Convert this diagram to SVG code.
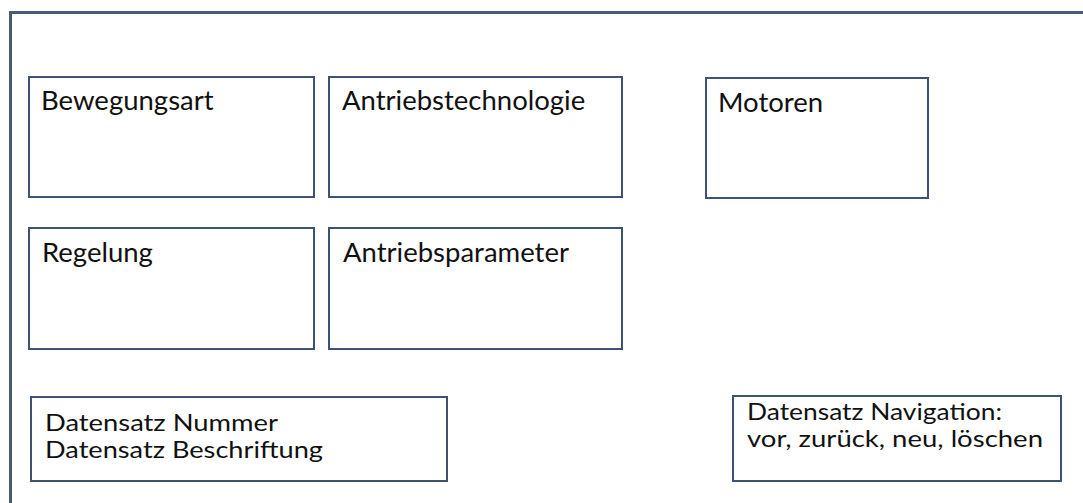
<svg xmlns="http://www.w3.org/2000/svg" width="1083" height="503" viewBox="0 0 1083 503">
  <style>
    .frame { fill: none; stroke: #4a5a78; stroke-width: 3; }
    .box { fill: #ffffff; stroke: #3e5275; stroke-width: 2; }
    .lbl { font-family: Lato, "Liberation Sans", sans-serif; font-size: 27.5px; fill: #111111; }
    .lbl2 { font-family: Lato, "Liberation Sans", sans-serif; font-size: 22.5px; fill: #111111; }
  </style>
  <rect width="1083" height="503" fill="#ffffff"/>
  <!-- outer window frame: left and top edges only -->
  <path class="frame" d="M10.5,503 V12.5 H1083"/>

  <g id="bewegungsart">
    <rect class="box" x="29" y="77" width="285" height="120"/>
    <text class="lbl" x="41" y="110">Bewegungsart</text>
  </g>
  <g id="antriebstechnologie">
    <rect class="box" x="329" y="77" width="293" height="120"/>
    <text class="lbl" x="342" y="110">Antriebstechnologie</text>
  </g>
  <g id="motoren">
    <rect class="box" x="706" y="78" width="222" height="120"/>
    <text class="lbl" x="718" y="112">Motoren</text>
  </g>
  <g id="regelung">
    <rect class="box" x="29" y="228" width="285" height="121"/>
    <text class="lbl" x="42" y="262">Regelung</text>
  </g>
  <g id="antriebsparameter">
    <rect class="box" x="329" y="228" width="293" height="121"/>
    <text class="lbl" x="343" y="262">Antriebsparameter</text>
  </g>
  <!-- two-line labels: smaller size, stretched to the full line width -->
  <g id="datensatz">
    <rect class="box" x="31" y="397" width="416" height="84"/>
    <text class="lbl2" x="45" y="431" textLength="233" lengthAdjust="spacingAndGlyphs">Datensatz Nummer</text>
    <text class="lbl2" x="45" y="458" textLength="278" lengthAdjust="spacingAndGlyphs">Datensatz Beschriftung</text>
  </g>
  <g id="navigation">
    <rect class="box" x="733" y="396" width="328" height="85"/>
    <text class="lbl2" x="747" y="420" textLength="255" lengthAdjust="spacingAndGlyphs">Datensatz Navigation:</text>
    <text class="lbl2" x="747" y="447" textLength="296" lengthAdjust="spacingAndGlyphs">vor, zurück, neu, löschen</text>
  </g>

  <g id="connectors"/>
</svg>
